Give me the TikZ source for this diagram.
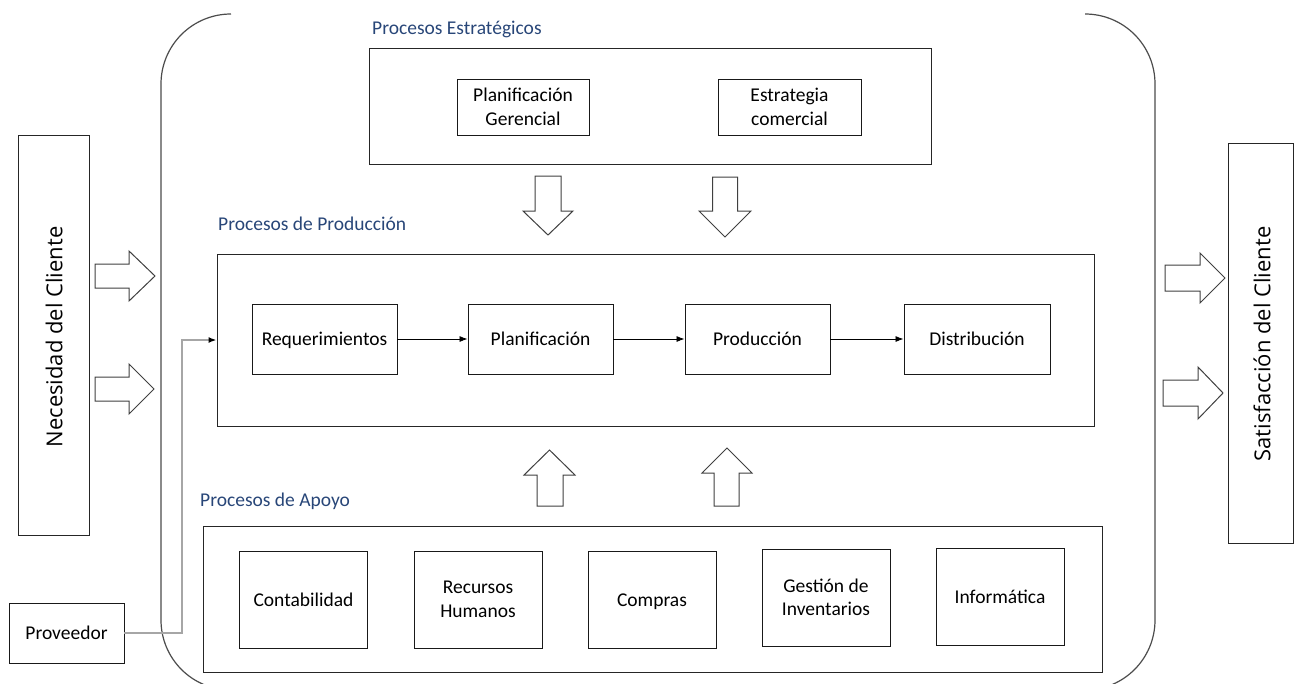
\documentclass[tikz,border=0pt]{standalone}
\usepackage{fontspec}
\setmainfont{Carlito}
\newfontfamily\sidefont{Open Sans}
\usetikzlibrary{arrows.meta}
\definecolor{lblue}{RGB}{40,70,120}
\tikzset{
  bx/.style={draw=black!90, line width=0.9pt, inner sep=0pt, align=center,
    font=\fontsize{19.5}{23.5}\selectfont},
  onebx/.style={bx, text height=15.5pt, text depth=2.5pt},
  bigbx/.style={draw=black!85, line width=1pt, inner sep=0pt},
  seclbl/.style={text=lblue, inner sep=0pt, anchor=west, font=\fontsize{19.5}{23}\selectfont},
  sidetxt/.style={font=\sidefont\fontsize{22}{26}\selectfont, rotate=90},
  barrow/.style={draw=black!75, line width=1pt, fill=white, line join=miter},
  flow/.style={draw=black, line width=0.8pt, -{Latex[length=8pt,width=6pt]}},
  container/.style={draw=black!70, line width=1.2pt}
}
\begin{document}
\begin{tikzpicture}[x=1pt,y=-1pt]
\useasboundingbox (0,0) rectangle (1295,683);
\clip (0,0) rectangle (1295,683);

% container (rounded sides, open top)
\draw[container] (231,14) .. controls (192.3,14) and (161,45.3) .. (161,84)
  -- (161,620) .. controls (161,658.7) and (192.3,690) .. (231,690);
\draw[container] (1085,14) .. controls (1123.7,14) and (1155,45.3) .. (1155,84)
  -- (1155,620) .. controls (1155,658.7) and (1123.7,690) .. (1085,690);

% side boxes
\node[bigbx, minimum width=71pt, minimum height=400pt] (nec) at (53.5,335) {};
\node[sidetxt] (nectxt) at (54,337) {Necesidad del Cliente};
\node[bigbx, minimum width=65pt, minimum height=400pt] (sat) at (1260.5,343) {};
\node[sidetxt] (sattxt) at (1262,344) {Satisfacción del Cliente};

% section labels
\node[seclbl] (l1) at (372,29) {Procesos Estratégicos};
\node[seclbl] (l2) at (218,224) {Procesos de Producción};
\node[seclbl] (l3) at (200,501) {Procesos de Apoyo};

% big boxes
\node[bigbx, minimum width=562pt, minimum height=116pt] (estr) at (650,106) {};
\node[bigbx, minimum width=877pt, minimum height=172pt] (prod) at (655.5,340) {};
\node[bigbx, minimum width=899pt, minimum height=146pt] (apoyo) at (652.5,599) {};

% strategic
\node[bx, minimum width=132pt, minimum height=56pt] (pg) at (523,107) {Planificación\\Gerencial};
\node[bx, minimum width=143pt, minimum height=56pt] (ec) at (789.5,107) {Estrategia\\comercial};

% production
\node[onebx, minimum width=145pt, minimum height=70pt] (req) at (324.5,339) {Requerimientos};
\node[onebx, minimum width=145pt, minimum height=70pt] (pla) at (540.5,339) {Planificación};
\node[onebx, minimum width=145pt, minimum height=70pt] (pro) at (757.5,339) {Producción};
\node[onebx, minimum width=146pt, minimum height=70pt] (dis) at (977,339) {Distribución};
\draw[flow] (req) -- (pla);
\draw[flow] (pla) -- (pro);
\draw[flow] (pro) -- (dis);

% support
\node[onebx, minimum width=128pt, minimum height=97pt] (con) at (303.5,599.5) {Contabilidad};
\node[bx, minimum width=128pt, minimum height=97pt] (rh) at (478,599.5) {Recursos\\Humanos};
\node[onebx, minimum width=128pt, minimum height=97pt] (com) at (652,599.5) {Compras};
\node[bx, minimum width=128pt, minimum height=97pt] (gi) at (826,597.5) {Gestión de\\Inventarios};
\node[onebx, minimum width=128pt, minimum height=97pt] (inf) at (1000,596.5) {Informática};

% proveedor
\node[onebx, minimum width=115pt, minimum height=60pt] (prov) at (66.5,633) {Proveedor};
\coordinate (bend) at (182,633);
\draw[draw=black!35, line width=1.5pt, -{Latex[length=8pt,width=6pt,black]}] (prov.east) -- (bend) |- (prod.west);

% block arrows down
\draw[barrow] (535,176) -- (561,176) -- (561,211) -- (573,211) -- (548,235) -- (523,211) -- (535,211) -- cycle;
\draw[barrow] (712.5,177) -- (737.5,177) -- (737.5,211) -- (751,211) -- (725,237) -- (699,211) -- (712.5,211) -- cycle;
% block arrows up
\draw[barrow] (537,506) -- (563,506) -- (563,475) -- (575,475) -- (549.5,450) -- (524,475) -- (537,475) -- cycle;
\draw[barrow] (714,506) -- (739,506) -- (739,473) -- (752,473) -- (727,448) -- (702,473) -- (714,473) -- cycle;
% block arrows left
\draw[barrow] (95,264) -- (129,264) -- (129,251) -- (155,276) -- (129,301) -- (129,288) -- (95,288) -- cycle;
\draw[barrow] (95,377) -- (129,377) -- (129,364) -- (154,389) -- (129,414) -- (129,401) -- (95,401) -- cycle;
% block arrows right
\draw[barrow] (1165,265) -- (1200,265) -- (1200,253) -- (1225,278) -- (1200,303) -- (1200,291) -- (1165,291) -- cycle;
\draw[barrow] (1163,380) -- (1198,380) -- (1198,367) -- (1223,393) -- (1198,419) -- (1198,406) -- (1163,406) -- cycle;
\end{tikzpicture}
\end{document}
